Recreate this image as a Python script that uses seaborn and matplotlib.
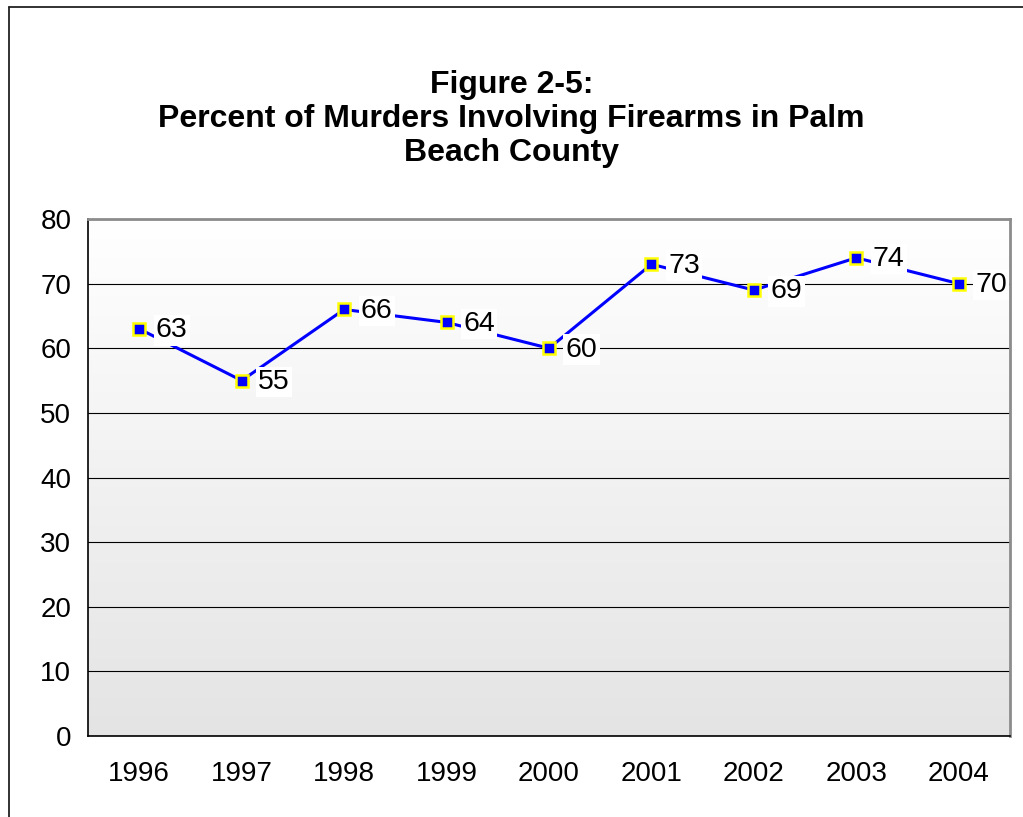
import numpy as np
import pandas as pd
import matplotlib
matplotlib.use("Agg")
import matplotlib.pyplot as plt
from matplotlib.lines import Line2D
import seaborn as sns

# Données
years = ["1996", "1997", "1998", "1999", "2000", "2001", "2002", "2003", "2004"]
percent = [63, 55, 66, 64, 60, 73, 69, 74, 70]
yticks = [0, 10, 20, 30, 40, 50, 60, 70, 80]

df = pd.DataFrame({"year": years, "pct": percent})

sns.set_style("white")
plt.rcParams['font.family'] = ['Liberation Sans', 'DejaVu Sans']
plt.rcParams['text.color'] = 'black'
plt.rcParams['xtick.color'] = 'black'
plt.rcParams['ytick.color'] = 'black'

fig = plt.figure(figsize=(10.23, 8.17), dpi=100)
ax = fig.add_axes([88/1023, 1 - 736/817, 922/1023, 517/817])

# fond en dégradé (blanc -> gris)
grad = np.linspace(1.0, 0.0, 256).reshape(-1, 1)
cmap = matplotlib.colors.LinearSegmentedColormap.from_list("g", ["#e4e4e4", "#ffffff"])
ax.imshow(grad, extent=[-0.5, 8.5, 0, 80], aspect='auto', cmap=cmap,
          origin='upper', zorder=0, vmin=0, vmax=1)

sns.lineplot(data=df, x="year", y="pct", ax=ax, sort=False, color="#0000ff", linewidth=2.2,
             marker="s", markersize=8, markerfacecolor="#0000ff", markeredgecolor="#ffff00",
             markeredgewidth=1.8, zorder=3)

for i, v in enumerate(percent):
    ax.annotate(str(v), (i, v), xytext=(12, -1), textcoords="offset points", fontsize=20.5,
                ha="left", va="center", zorder=4, color="black",
                bbox=dict(boxstyle="square,pad=0.08", fc="white", ec="none"))

ax.set_xlim(-0.5, 8.5)
ax.set_ylim(0, 80)
ax.set_yticks(yticks)
ax.set_yticklabels([str(t) for t in yticks], fontsize=20)
ax.yaxis.grid(True, color="black", linewidth=0.8)
ax.set_axisbelow(True)

ax.set_xticks(range(len(years)))
ax.set_xticklabels(years, fontsize=20)
ax.set_xticks(np.arange(-0.5, 9, 1), minor=True)
ax.tick_params(axis="x", which="major", length=0, pad=18)
ax.tick_params(axis="x", which="minor", length=7, width=1, color="black", direction="out")
ax.tick_params(axis="y", length=6, width=1, color="black", direction="out", pad=6)
ax.set_xlabel("")
ax.set_ylabel("")

for s in ["left", "bottom"]:
    ax.spines[s].set_color("black")
    ax.spines[s].set_linewidth(1.2)
for s in ["top", "right"]:
    ax.spines[s].set_color("#8c8c8c")
    ax.spines[s].set_linewidth(2)

fig.text(0.5, 1 - 119/817, "Figure 2-5:\nPercent of Murders Involving Firearms in Palm\nBeach County",
         ha="center", va="center", fontsize=23, fontweight="bold", linespacing=1.16, color="black")

# cadre extérieur (haut et gauche)
fig.add_artist(Line2D([9/1023, 9/1023], [0, 1 - 7/817], transform=fig.transFigure, color="#222222", linewidth=1.3))
fig.add_artist(Line2D([9/1023, 1], [1 - 7/817, 1 - 7/817], transform=fig.transFigure, color="#222222", linewidth=1.3))

fig.savefig("out.png", dpi=100)
